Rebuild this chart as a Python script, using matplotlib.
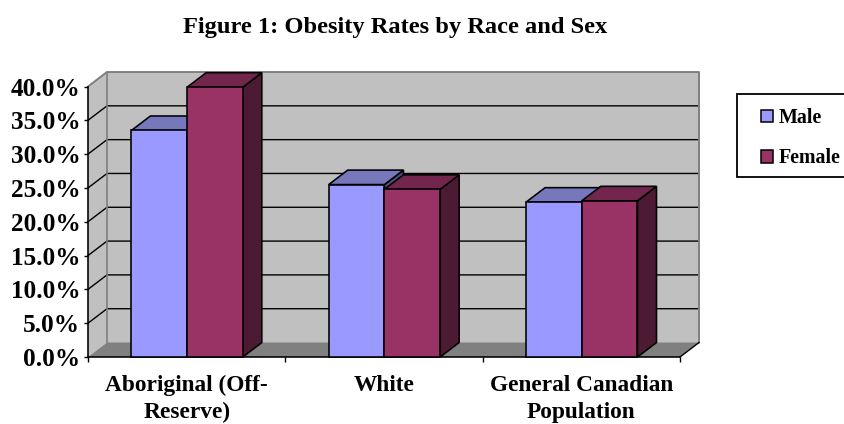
"""Obesity rates by race and sex, drawn as an Excel-style 3D clustered column chart."""

import matplotlib
matplotlib.use("Agg")
import matplotlib.pyplot as plt
from matplotlib.patches import Patch, Polygon, Rectangle

plt.rcParams["font.family"] = ["Liberation Serif", "DejaVu Serif"]
plt.rcParams["font.weight"] = "bold"

categories = ["Aboriginal (Off-\nReserve)", "White", "General Canadian\nPopulation"]
male = [33.5, 25.5, 22.9]
female = [39.9, 24.8, 23.1]
y_ticks = [0, 5, 10, 15, 20, 25, 30, 35, 40]
y_labels = ["0.0%", "5.0%", "10.0%", "15.0%", "20.0%", "25.0%", "30.0%", "35.0%", "40.0%"]

W, H = 845, 424
DX, DY = 0.0963, 2.14  # depth offset of the 3D box, in data units
BAR_W = 0.2823
BAR_START = 0.22

WALL = "#c0c0c0"
FLOOR = "#808080"
EDGE = "#7f7f7f"
MALE = ("#9999ff", "#7777bb", "#4d4d80")
FEMALE = ("#993366", "#73264d", "#4d1a33")


def draw_bar(ax, x, h, colors):
    """One 3D column: front face, top face and right side."""
    front, top, side = colors
    w = BAR_W
    faces = [
        ([(x + w, 0), (x + w + DX, DY), (x + w + DX, h + DY), (x + w, h)], side),
        ([(x, h), (x + DX, h + DY), (x + w + DX, h + DY), (x + w, h)], top),
        ([(x, 0), (x + w, 0), (x + w, h), (x, h)], front),
    ]
    for pts, col in faces:
        ax.add_patch(Polygon(pts, closed=True, facecolor=col, edgecolor="black",
                             linewidth=1.15, joinstyle="miter", clip_on=False, zorder=3))


fig = plt.figure(figsize=(W / 100, H / 100), dpi=100)
ax = fig.add_axes([88 / W, (H - 357) / H, 592 / W, 270.5 / H])
ax.set_xlim(0, 3)
ax.set_ylim(0, 40)

# walls and floor of the box
ax.add_patch(Polygon([(DX, DY), (3 + DX, DY), (3 + DX, 40 + DY), (DX, 40 + DY)],
                     facecolor=WALL, edgecolor="none", clip_on=False, zorder=0))
ax.add_patch(Polygon([(0, 0), (DX, DY), (DX, 40 + DY), (0, 40)],
                     facecolor=WALL, edgecolor="none", clip_on=False, zorder=0))
ax.add_patch(Polygon([(0, 0), (3, 0), (3 + DX, DY), (DX, DY)],
                     facecolor=FLOOR, edgecolor="none", clip_on=False, zorder=0))

# gridlines run along the side wall and across the back wall
for t in y_ticks[1:-1]:
    ax.plot([0, DX, 3 + DX], [t, t + DY, t + DY], color="black", lw=1.0,
            clip_on=False, zorder=1, solid_joinstyle="miter")
ax.plot([0, DX, 3 + DX, 3 + DX], [40, 40 + DY, 40 + DY, DY], color=EDGE, lw=1.4,
        clip_on=False, zorder=1)
ax.plot([DX, DX], [DY, 40 + DY], color=EDGE, lw=1.2, clip_on=False, zorder=1)
ax.plot([3, 3 + DX], [0, DY], color="black", lw=1.0, clip_on=False, zorder=1)

for i in range(len(categories)):
    draw_bar(ax, i + BAR_START, male[i], MALE)
    draw_bar(ax, i + BAR_START + BAR_W, female[i], FEMALE)

for side in ("top", "right"):
    ax.spines[side].set_visible(False)
for side in ("left", "bottom"):
    ax.spines[side].set_linewidth(1.15)
    ax.spines[side].set_zorder(2)
ax.patch.set_visible(False)

ax.set_yticks(y_ticks)
ax.set_yticklabels(y_labels, fontsize=18.2)
ax.set_xticks([0, 1, 2, 3])
ax.set_xticklabels([])
ax.set_xticks([0.5, 1.5, 2.5], labels=categories, minor=True, fontsize=16.8,
              linespacing=1.36)
ax.tick_params(axis="x", which="major", length=3.5, width=1)
ax.tick_params(axis="x", which="minor", length=0, pad=13)
ax.tick_params(axis="y", length=3, width=1, pad=2.5)

fig.text(395 / W, 1 - 27 / H, "Figure 1: Obesity Rates by Race and Sex",
         ha="center", va="center", fontsize=17.6)

# legend frame runs off the right edge of the figure
fig.add_artist(Rectangle((737 / W, 1 - 177 / H), 120 / W, 83 / H, transform=fig.transFigure,
                         facecolor="white", edgecolor="black", linewidth=1.3))
handles = [Patch(facecolor=MALE[0], edgecolor="black", linewidth=1.1, label="Male"),
           Patch(facecolor=FEMALE[0], edgecolor="black", linewidth=1.1, label="Female")]
fig.legend(handles=handles, loc="upper left", bbox_to_anchor=(761 / W, 1 - 108 / H),
           fontsize=14.4, handlelength=0.6, handleheight=0.6, handletextpad=0.3,
           labelspacing=1.02, borderaxespad=0, borderpad=0, frameon=False)

fig.savefig("out.png", dpi=100)
